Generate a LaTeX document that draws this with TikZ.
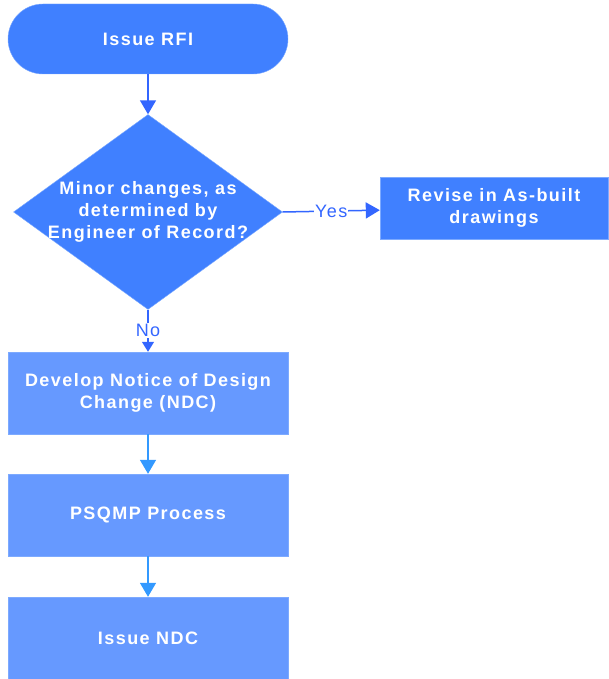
\documentclass[tikz,border=0pt]{standalone}
\usepackage{fontspec}
\setmainfont{Liberation Sans}[LetterSpace=8]
\usetikzlibrary{arrows.meta,positioning,shapes.geometric}
\definecolor{mainblue}{RGB}{64,128,255}
\definecolor{paleblue}{RGB}{102,153,255}
\definecolor{rimblue}{RGB}{125,170,255}
\definecolor{lineblue}{RGB}{51,102,255}
\definecolor{skyline}{RGB}{51,153,255}

\tikzset{
  term/.style={rectangle, rounded corners=35pt, fill=mainblue, draw=rimblue,
    minimum width=280pt, minimum height=70pt},
  decision/.style={diamond, fill=mainblue, draw=rimblue, inner sep=0pt,
    minimum width=269pt, minimum height=195pt},
  action/.style={rectangle, fill=mainblue, draw=rimblue,
    minimum width=228pt, minimum height=62pt, align=center},
  process/.style={rectangle, fill=paleblue, draw=rimblue,
    minimum width=280pt, minimum height=82pt, align=center},
  lbl/.style={font=\fontsize{18}{22}\selectfont, text=lineblue, fill=white, inner sep=1pt},
  flow/.style={draw=lineblue, line width=1.5pt, -{Triangle[length=14pt,width=16pt]}},
  flowlight/.style={draw=skyline, line width=1.5pt, -{Triangle[length=14pt,width=16pt]}}
}

\begin{document}
\begin{tikzpicture}[x=1pt,y=-1pt,on grid,
    every node/.style={font=\fontsize{18}{22}\selectfont\bfseries, text=white}]

    \useasboundingbox (0,0) rectangle (608,679);

    \node[term] (rfi) at (148,39) {Issue RFI};
    \node[decision] (minor) [below=173pt of rfi]
        {\makebox[0pt]{\begin{tabular}{@{}c@{}}Minor changes, as\\determined by\\Engineer of Record?\end{tabular}}};
    \node[action] (asbuilt) [right=346pt of minor, yshift=4pt] {Revise in As-built\\drawings};
    \node[process] (ndc) [below=181pt of minor] {Develop Notice of Design\\Change (NDC)};
    \node[process] (psqmp) [below=122pt of ndc] {PSQMP Process};
    \node[process] (issue) [below=123pt of psqmp] {Issue NDC};

    \draw[flow] (rfi) -- (minor);
    \draw[flow] (minor.east) -- node[lbl] {Yes} (asbuilt);
    \draw[flow, line width=1.2pt, -{Triangle[length=10pt,width=12pt]}] (minor.south) -- node[lbl] {No} (ndc);
    \draw[flowlight] (ndc) -- (psqmp);
    \draw[flowlight] (psqmp) -- (issue);

\end{tikzpicture}
\end{document}
